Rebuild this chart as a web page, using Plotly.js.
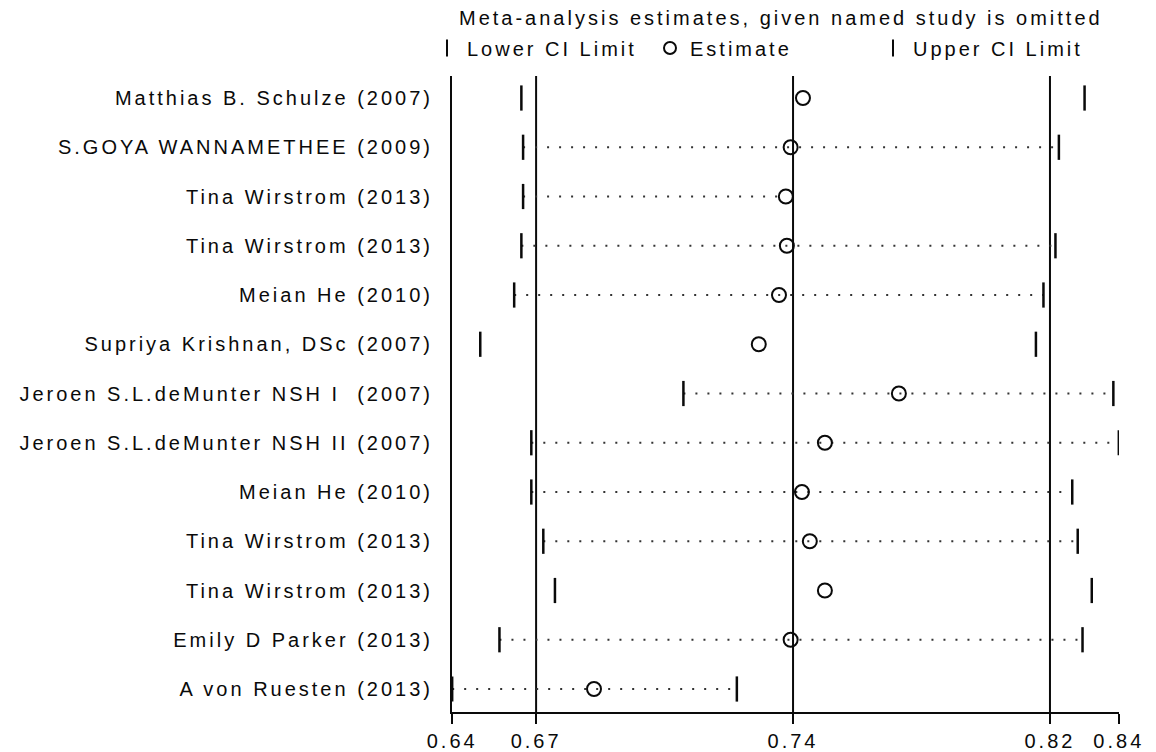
<!DOCTYPE html>
<html>
<head>
<meta charset="utf-8">
<script src="https://cdn.plot.ly/plotly-3.0.1.min.js"></script>
<style>
html, body { margin: 0; padding: 0; background: #ffffff; }
svg text { letter-spacing: 3px; }
</style>
</head>
<body>
<div id="chart" style="width:1156px;height:752px;"></div>
<script>
// ---- data ----
const studies = [
  'Matthias B. Schulze (2007)',
  'S.GOYA WANNAMETHEE (2009)',
  'Tina Wirstrom (2013)',
  'Tina Wirstrom (2013)',
  'Meian He (2010)',
  'Supriya Krishnan, DSc (2007)',
  'Jeroen S.L.deMunter NSH I\u00a0\u00a0(2007)',
  'Jeroen S.L.deMunter NSH II (2007)',
  'Meian He (2010)',
  'Tina Wirstrom (2013)',
  'Tina Wirstrom (2013)',
  'Emily D Parker (2013)',
  'A von Ruesten (2013)'
];
const estimate = [0.7479, 0.7443, 0.7429, 0.7432, 0.7409, 0.7350, 0.7759, 0.7543, 0.7476, 0.7499, 0.7543, 0.7443, 0.6869];
const lowerCI  = [0.6657, 0.6662, 0.6662, 0.6657, 0.6636, 0.6537, 0.7130, 0.6686, 0.6686, 0.6721, 0.6755, 0.6593, 0.6455];
const upperCI  = [0.8301, 0.8226, null,   0.8216, 0.8181, 0.8159, 0.8385, 0.8401, 0.8265, 0.8281, 0.8322, 0.8295, 0.7286];
const dotsVisible = [false, true, true, true, true, false, true, true, true, true, false, true, true];

const overallLower = 0.67;
const overallEstimate = 0.745;
const overallUpper = 0.82;
const axisMin = 0.6455;
const axisMax = 0.8401;
const xTickVals = [axisMin, overallLower, overallEstimate, overallUpper, axisMax];
const xTickText = ['0.64', '0.67', '0.74', '0.82', '0.84'];

const headerText = 'Meta-analysis estimates, given named study is omitted';

// ---- build traces ----
const rowPos = studies.map((_, i) => i + 1);
const ink = '#0a0a0a';

const dotX = [], dotY = [];
rowPos.forEach((r, i) => {
  if (!dotsVisible[i]) return;
  const right = upperCI[i] !== null ? upperCI[i] : estimate[i];
  dotX.push(lowerCI[i], right, null);
  dotY.push(r, r, null);
});

const traces = [
  {
    type: 'scatter', mode: 'lines', x: dotX, y: dotY,
    line: { color: '#333333', width: 2, dash: '2px,10px' },
    showlegend: false, hoverinfo: 'skip'
  },
  {
    type: 'scatter', mode: 'markers', name: 'Lower CI Limit',
    x: lowerCI, y: rowPos,
    marker: { symbol: 'line-ns', size: 18, color: ink, line: { width: 2.5, color: ink } }
  },
  {
    type: 'scatter', mode: 'markers', name: 'Estimate',
    x: estimate, y: rowPos,
    marker: { symbol: 'circle-open', size: 14, color: ink, line: { width: 2, color: ink } }
  },
  {
    type: 'scatter', mode: 'markers', name: 'Upper CI Limit',
    x: upperCI, y: rowPos,
    marker: { symbol: 'line-ns', size: 18, color: ink, line: { width: 2.5, color: ink } }
  }
];

const vline = v => ({
  type: 'line', xref: 'x', yref: 'paper', x0: v, x1: v, y0: 0, y1: 1,
  line: { color: ink, width: 2 }, layer: 'below'
});

const layout = {
  width: 1156, height: 752,
  margin: { l: 452, r: 37, t: 76, b: 40, autoexpand: false },
  paper_bgcolor: '#ffffff', plot_bgcolor: '#ffffff',
  font: { family: 'Liberation Sans, Arial, sans-serif', size: 20, color: ink },
  xaxis: {
    range: [axisMin - 0.00005, axisMax + 0.00005],
    tickmode: 'array', tickvals: xTickVals, ticktext: xTickText,
    ticks: 'outside', ticklen: 10, tickwidth: 2, tickcolor: ink,
    showline: true, linewidth: 2, linecolor: ink,
    showgrid: false, zeroline: false, fixedrange: true
  },
  yaxis: {
    range: [13.467, 0.553],
    tickmode: 'array', tickvals: rowPos, ticktext: studies,
    ticks: 'outside', ticklen: 13, tickcolor: 'rgba(0,0,0,0)',
    showline: true, linewidth: 2, linecolor: ink,
    showgrid: false, zeroline: false, fixedrange: true
  },
  shapes: [vline(overallLower), vline(overallEstimate), vline(overallUpper)],
  annotations: [{
    text: headerText, xref: 'paper', yref: 'paper',
    x: (457 - 452) / 667, y: (712 - 18) / 636, xanchor: 'left', yanchor: 'middle',
    showarrow: false, font: { size: 20, color: ink }
  }],
  showlegend: true,
  legend: {
    orientation: 'h', xref: 'container', yref: 'container',
    x: 427 / 1156, y: 1 - 48 / 752, xanchor: 'left', yanchor: 'middle',
    entrywidth: 178, entrywidthmode: 'pixels', itemsizing: 'constant',
    bgcolor: 'rgba(0,0,0,0)', borderwidth: 0,
    font: { size: 20, color: ink }, itemclick: false, itemdoubleclick: false
  }
};

Plotly.newPlot('chart', traces, layout, { displayModeBar: false, staticPlot: true });
</script>
</body>
</html>
